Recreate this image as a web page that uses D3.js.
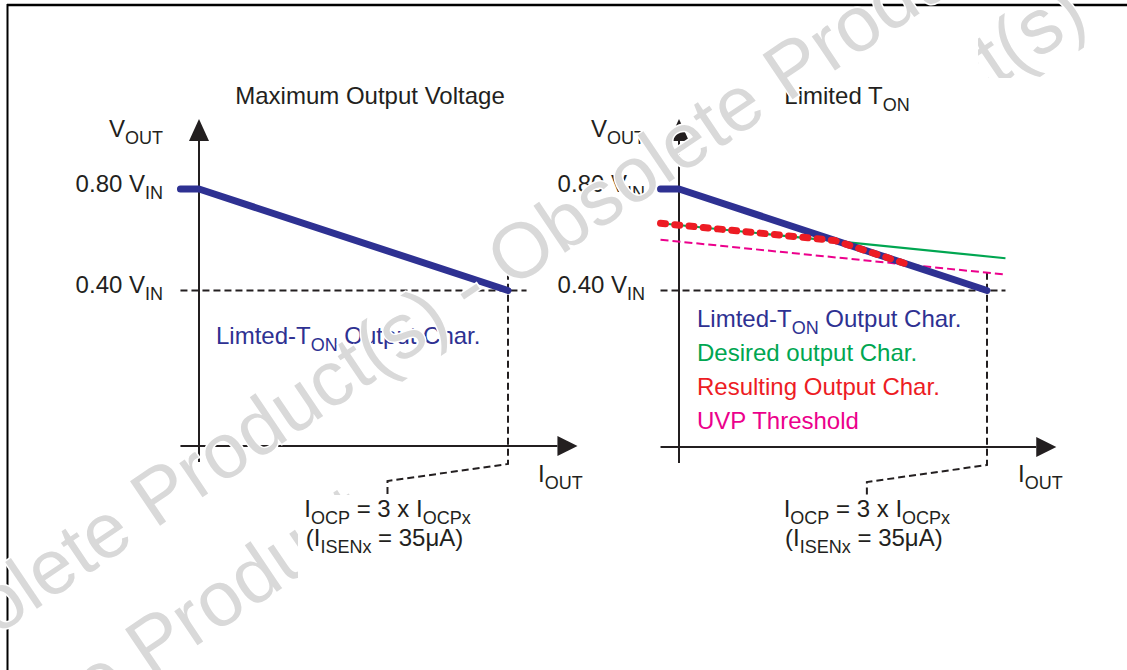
<!DOCTYPE html>
<html><head><meta charset="utf-8">
<script src="https://cdn.jsdelivr.net/npm/d3@7"></script>
<style>
body{margin:0;background:#fff}
svg{display:block}
text{font-family:"Liberation Sans",Arial,Helvetica,sans-serif}
</style>
</head><body>
<svg id="chart" width="1127" height="670"></svg>
<script>
// ---------------- data ----------------
const panelTitles = [
  [["Maximum Output Voltage", false]],
  [["Limited T", false], ["ON", true]]
];
const vTickValues = [0.80, 0.40];
const vTickText = ["0.80 V", "0.40 V"];
const vTickSub = "IN";
const axisLabelY = [["V", false], ["OUT", true]];
const axisLabelX = [["I", false], ["OUT", true]];
// I_OUT normalised to I_OCP (=1), V_OUT in units of V_IN
const limitedTon      = [[-0.06, 0.80], [0, 0.80], [1, 0.40]];
const desiredOutput   = [[-0.06, 0.665], [1.06, 0.527]];
const uvpThreshold    = [[-0.06, 0.600], [1.06, 0.463]];
const resultingOutput = [[-0.06, 0.665], [0.506, 0.597], [0.74, 0.504]];
const ocpValue = 1;
const ocpLabelLine1 = [["I", false], ["OCP", true], [" = 3 x I", false], ["OCPx", true]];
const ocpLabelLine2 = [["(I", false], ["ISENx", true], [" = 35\u03bcA)", false]];
const legendLimited   = [["Limted-T", false], ["ON", true], [" Output Char.", false]];
const legendDesired   = [["Desired output Char.", false]];
const legendResulting = [["Resulting Output Char.", false]];
const legendUvp       = [["UVP Threshold", false]];
const watermarkText = "Obsolete Product(s) - Obsolete Product(s)";

// ---------------- styles ----------------
const ink = "#231f20";
const cBlue = "#2e3192", cGreen = "#00a651", cRed = "#ed1c24", cPink = "#ec008c";
const FS = 24, SFS = 18, SDY = 7;

const svg = d3.select("#chart");

function rich(sel, x, y, parts, anchor, fill, fs) {
  fs = fs || FS;
  const t = sel.append("text").attr("x", x).attr("y", y)
    .attr("text-anchor", anchor || "start").attr("fill", fill || ink)
    .attr("font-size", fs);
  let shift = 0;
  parts.forEach(([s, sub]) => {
    const target = sub ? SDY : 0;
    t.append("tspan").attr("dy", target - shift)
      .attr("font-size", sub ? SFS : fs).text(s);
    shift = target;
  });
  return t;
}

// frame
svg.append("line").attr("x1", 7).attr("x2", 1127).attr("y1", 5).attr("y2", 5)
  .attr("stroke", "#000").attr("stroke-width", 2.5);
svg.append("line").attr("x1", 7.5).attr("x2", 7.5).attr("y1", 4).attr("y2", 670)
  .attr("stroke", "#000").attr("stroke-width", 2);

const panels = [
  {x0: 199, x1: 508, axisY: 446, titleX: 370, labelRight: 163, ioutX: 538,
   legend: [[legendLimited, cBlue]], legendX: 216, legendY: 344, full: false},
  {x0: 679, x1: 987, axisY: 447, titleX: 847, labelRight: 645, ioutX: 1018,
   legend: [[legendLimited, cBlue], [legendDesired, cGreen], [legendResulting, cRed], [legendUvp, cPink]],
   legendX: 697, legendY: 327, full: true}
];

panels.forEach((p, idx) => {
  const g = svg.append("g");
  const x = d3.scaleLinear().domain([0, ocpValue]).range([p.x0, p.x1]);
  const y = d3.scaleLinear().domain([0.40, 0.80]).range([290.5, 189]);
  const line = d3.line().x(d => x(d[0])).y(d => y(d[1]));

  // title
  rich(g, p.titleX, 104, panelTitles[idx], "middle");

  // axes
  const yTop = 119, yBase = 141;
  g.append("line").attr("x1", p.x0).attr("x2", p.x0).attr("y1", yBase).attr("y2", p.axisY + 16)
    .attr("stroke", ink).attr("stroke-width", 2);
  g.append("path").attr("d", `M${p.x0},${yTop}L${p.x0 - 10},${yBase}L${p.x0 + 10},${yBase}Z`).attr("fill", ink);
  const xs = x(-0.06), xb = x(1.16), xt = x(1.225);
  g.append("line").attr("x1", xs).attr("x2", xb).attr("y1", p.axisY).attr("y2", p.axisY)
    .attr("stroke", ink).attr("stroke-width", 2);
  g.append("path").attr("d", `M${xt},${p.axisY}L${xb},${p.axisY - 10}L${xb},${p.axisY + 10}Z`).attr("fill", ink);

  // axis labels
  rich(g, p.labelRight, 137, axisLabelY, "end");
  rich(g, p.ioutX, 482, axisLabelX, "start");
  vTickValues.forEach((v, i) => {
    rich(g, p.labelRight, y(v) + 2.5, [[vTickText[i], false], [vTickSub, true]], "end");
  });

  // dashed guides
  const dash = {stroke: ink, "stroke-width": 2, "stroke-dasharray": "7,4", fill: "none"};
  const gl = g.append("path").attr("d", line([[-0.06, 0.40], [1.06, 0.40]]));
  Object.entries(dash).forEach(([k, v]) => gl.attr(k, v));
  const leader = `M${x(ocpValue)},${y(0.47)}L${x(ocpValue)},${p.axisY + 18}L${x(0.61)},${p.axisY + 35}L${x(0.61)},${p.axisY + 49}`;
  const ld = g.append("path").attr("d", leader);
  Object.entries(dash).forEach(([k, v]) => ld.attr(k, v));

  // series
  if (p.full) {
    g.append("path").attr("d", line(uvpThreshold)).attr("fill", "none")
      .attr("stroke", cPink).attr("stroke-width", 2).attr("stroke-dasharray", "8,4");
    g.append("path").attr("d", line(desiredOutput)).attr("fill", "none")
      .attr("stroke", cGreen).attr("stroke-width", 2.2);
  }
  g.append("path").attr("d", line(limitedTon)).attr("fill", "none")
    .attr("stroke", cBlue).attr("stroke-width", 7).attr("stroke-linecap", "round").attr("stroke-linejoin", "round");
  if (p.full) {
    g.append("path").attr("d", line(resultingOutput)).attr("fill", "none")
      .attr("stroke", cRed).attr("stroke-width", 7).attr("stroke-linecap", "round")
      .attr("stroke-dasharray", "5,9.3");
  }

  // legend
  p.legend.forEach(([parts, col], i) => {
    rich(g, p.legendX, p.legendY + i * 34, parts, "start", col);
  });

  // OCP label
  rich(g, x(0.61), 517, ocpLabelLine1, "middle");
  rich(g, x(0.61) - 3, 546, ocpLabelLine2, "middle");
});

// watermark
const defs = svg.append("defs");
defs.append("clipPath").attr("id", "wmclipLow")
  .append("path").attr("d", "M0,0H352V495H298V670H0Z");
defs.append("clipPath").attr("id", "wmclipTop")
  .append("rect").attr("x", 978).attr("y", 0).attr("width", 149).attr("height", 78);
const wm = svg.append("g").attr("font-size", 78).attr("fill", "#d9d9d9")
  .attr("stroke", "#fff").attr("stroke-width", 3).attr("paint-order", "stroke");
wm.append("text").attr("transform", "translate(-122,716) rotate(-34)").text(watermarkText);
wm.append("g").attr("clip-path", "url(#wmclipLow)")
  .append("text").attr("transform", "translate(-127,864) rotate(-34)").text(watermarkText);
wm.append("g").attr("clip-path", "url(#wmclipTop)")
  .append("text").attr("transform", "translate(-117,838) rotate(-34)").text(watermarkText);
</script>
</body></html>
